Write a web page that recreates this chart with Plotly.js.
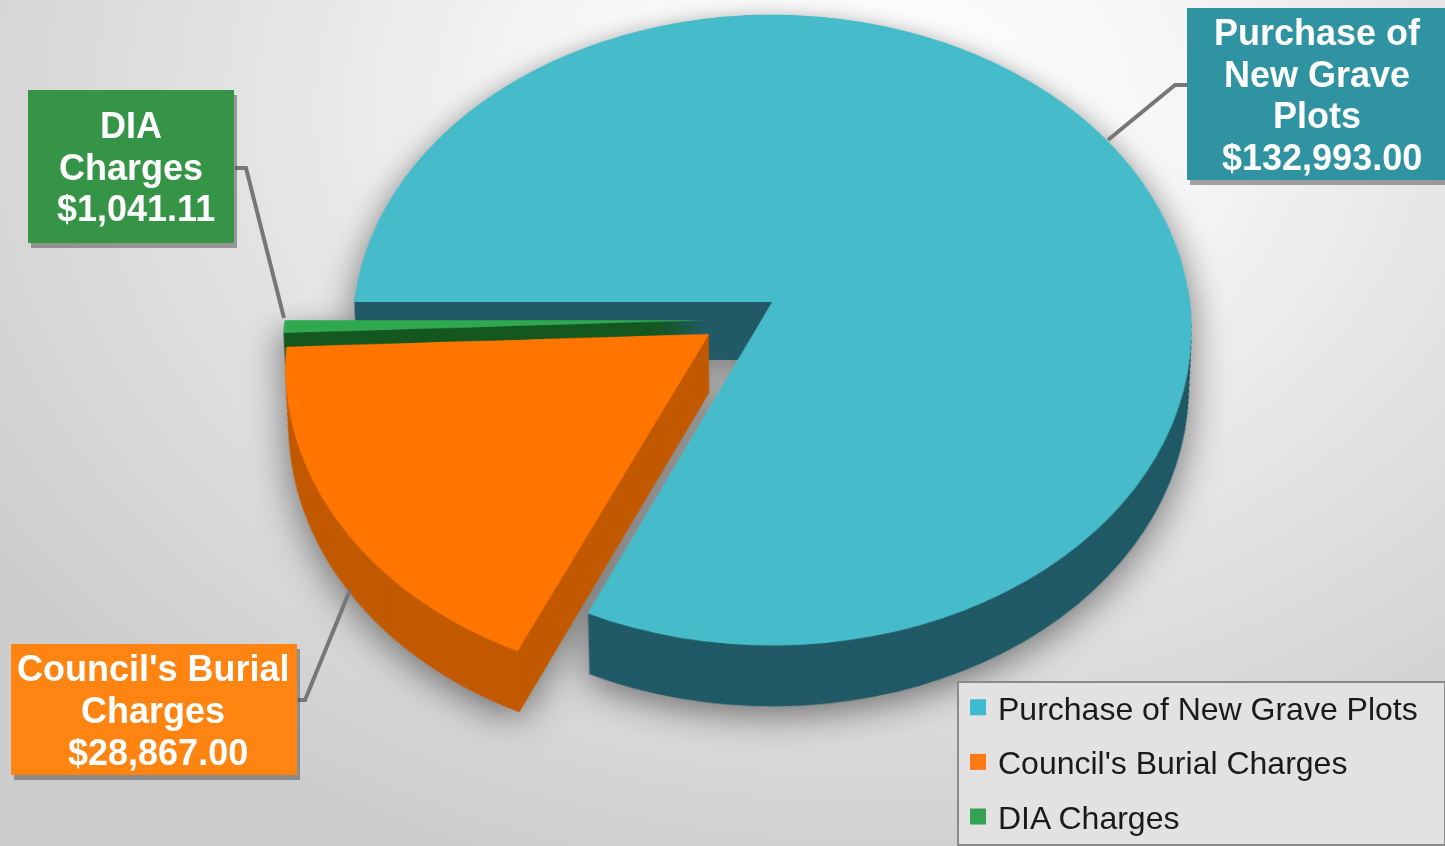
<!DOCTYPE html>
<html>
<head>
<meta charset="utf-8">
<script src="https://cdn.plot.ly/plotly-3.0.1.min.js"></script>
<style>
html,body{margin:0;padding:0;width:1445px;height:846px;overflow:hidden;}
body{background:radial-gradient(ellipse 1050px 800px at 870px 110px,#ffffff 0%,#f6f6f6 30%,#e2e2e2 62%,#cdcdcd 100%);position:relative;}
#pie{position:absolute;left:222px;top:-198px;width:1100px;height:1200px;transform-origin:550px 500px;transform:perspective(3108px) rotateX(41.5deg);filter:drop-shadow(0 10px 18px rgba(0,0,0,.48)) blur(.5px);}
#over{position:absolute;left:0;top:0;width:1445px;height:846px;filter:blur(.5px);}
</style>
</head>
<body>
<div id="pie"></div>
<div id="over"></div>
<script>
// ---- data ----
var categories = ["Purchase of New Grave Plots", "Council's Burial Charges", "DIA Charges"];
var values = [132993.00, 28867.00, 1041.11];
var wrappedNames = [["Purchase of", "New Grave", "Plots"], ["Council's Burial", "Charges"], ["DIA", "Charges"]];

// ---- styles ----
var topColors = ["#46bcca", "#ff7500", "#2fa84f"];
var wallColors = ["#215a66", "#c25a00", "#14571f"];
var legendColors = ["#3dbbd0", "#ff7a14", "#35a152"];
var boxColors = ["#2f93a1", "#ff8412", "#369446"];
var pulls = [0, 0.18, 0.16];
var sliceDrop = [0, 0, 23];      // extra downward offset of a slice in the tilted plane
var paintOrder = [0, 2, 1];      // back to front

// ---- extruded pie: a stack of identical pies per slice ----
var W = 1100, H = 1200, CY = 500, SIZE = 986, DEPTH = 76, LAYERS = 40, SHRINK = 0.0003;
var traces = [];
paintOrder.forEach(function (s) {
  for (var i = LAYERS; i >= 0; i--) {
    var shift = DEPTH * i / LAYERS;
    var c = H - CY - shift - sliceDrop[s];
    var size = SIZE * (1 - shift * SHRINK);
    var base = i === 0 ? topColors : wallColors;
    traces.push({
      type: "pie", labels: categories, values: values, sort: false,
      direction: "clockwise", rotation: 270, pull: pulls,
      textinfo: "none", hoverinfo: "skip", showlegend: false,
      domain: {x: [(W - size) / 2 / W, (W + size) / 2 / W], y: [(c - size / 2) / H, (c + size / 2) / H]},
      marker: {colors: base.map(function (col, n) { return n === s ? col : "rgba(0,0,0,0)"; }), line: {width: 0}}
    });
  }
});
Plotly.newPlot("pie", traces, {
  width: W, height: H, margin: {l: 0, r: 0, t: 0, b: 0},
  paper_bgcolor: "rgba(0,0,0,0)", showlegend: false
}, {staticPlot: true, displayModeBar: false});

// ---- labels, leader lines, legend ----
var VW = 1445, VH = 846;
function X(p) { return p / VW; }
function Y(p) { return 1 - p / VH; }
var boxes = [
  {x0: 1187, x1: 1450, y0: 8, y1: 180, tx: 1317, ty: 32, line: [[1187, 85], [1175, 85], [1108, 140]]},
  {x0: 11, x1: 297, y0: 644, y1: 775, tx: 153, ty: 668, line: [[298, 700], [305, 700], [350, 590]]},
  {x0: 28, x1: 234, y0: 90, y1: 243, tx: 131, ty: 125, line: [[235, 168], [246, 168], [284, 318]]}
];
var shapes = [], annotations = [];
boxes.forEach(function (b, k) {
  var path = b.line.map(function (p, j) { return (j ? "L" : "M") + X(p[0]) + "," + Y(p[1]); }).join(" ");
  shapes.push({type: "path", xref: "paper", yref: "paper", path: path, line: {color: "#777777", width: 4}});
  shapes.push({type: "rect", xref: "paper", yref: "paper", x0: X(b.x0 + 3), x1: X(b.x1 + 3), y0: Y(b.y0 + 5), y1: Y(b.y1 + 5),
    fillcolor: "rgba(60,60,60,.45)", line: {width: 0}});
  shapes.push({type: "rect", xref: "paper", yref: "paper", x0: X(b.x0), x1: X(b.x1), y0: Y(b.y0), y1: Y(b.y1),
    fillcolor: boxColors[k], line: {width: 0}});
  var money = "$" + values[k].toLocaleString("en-US", {minimumFractionDigits: 2, maximumFractionDigits: 2});
  var lines = wrappedNames[k].concat([money]);
  lines.forEach(function (t, n) {
    annotations.push({xref: "paper", yref: "paper", x: X(b.tx + (n === lines.length - 1 ? 5 : 0)), y: Y(b.ty + n * 42), text: t, showarrow: false,
      xanchor: "center", yanchor: "middle",
      font: {family: "Liberation Sans, Arial, sans-serif", size: 36, color: "#ffffff", weight: 700}});
  });
});
// legend panel
shapes.push({type: "rect", xref: "paper", yref: "paper", x0: X(958), x1: X(1445), y0: Y(682), y1: Y(845),
  fillcolor: "#e2e2e2", line: {color: "#8a8a8a", width: 2}});
var legendTraces = categories.map(function (name, k) {
  return {type: "scatter", mode: "markers", x: [null], y: [null], name: name, legendgroup: "g" + k,
    marker: {symbol: "square", size: 16, color: legendColors[k]}, hoverinfo: "skip"};
});
Plotly.newPlot("over", legendTraces, {
  width: VW, height: VH, margin: {l: 0, r: 0, t: 0, b: 0, autoexpand: false},
  paper_bgcolor: "rgba(0,0,0,0)", plot_bgcolor: "rgba(0,0,0,0)",
  xaxis: {visible: false}, yaxis: {visible: false},
  shapes: shapes, annotations: annotations, showlegend: true,
  legend: {x: X(958), y: Y(680), xanchor: "left", yanchor: "top",
    bgcolor: "rgba(0,0,0,0)", borderwidth: 0,
    font: {family: "Liberation Sans, Arial, sans-serif", size: 32, color: "#1a1a1a"},
    traceorder: "grouped", tracegroupgap: 10, itemwidth: 30, entrywidth: 440}
}, {staticPlot: true, displayModeBar: false});
</script>
</body>
</html>
